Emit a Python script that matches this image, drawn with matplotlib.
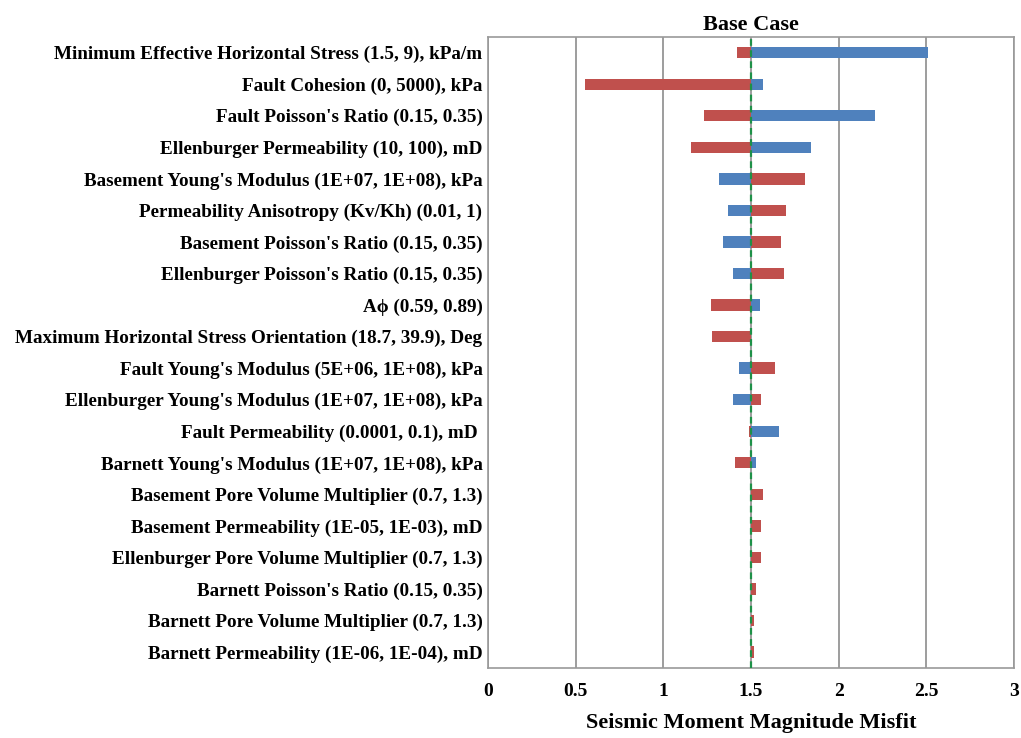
import matplotlib
matplotlib.use("Agg")
from matplotlib import pyplot as plt

params = [
    "Minimum Effective Horizontal Stress (1.5, 9), kPa/m",
    "Fault Cohesion (0, 5000), kPa",
    "Fault Poisson's Ratio (0.15, 0.35)",
    "Ellenburger Permeability (10, 100), mD",
    "Basement Young's Modulus (1E+07, 1E+08), kPa",
    "Permeability Anisotropy (Kv/Kh) (0.01, 1)",
    "Basement Poisson's Ratio (0.15, 0.35)",
    "Ellenburger Poisson's Ratio (0.15, 0.35)",
    "A\u03d5 (0.59, 0.89)",
    "Maximum Horizontal Stress Orientation (18.7, 39.9), Deg",
    "Fault Young's Modulus (5E+06, 1E+08), kPa",
    "Ellenburger Young's Modulus (1E+07, 1E+08), kPa",
    "Fault Permeability (0.0001, 0.1), mD ",
    "Barnett Young's Modulus (1E+07, 1E+08), kPa",
    "Basement Pore Volume Multiplier (0.7, 1.3)",
    "Basement Permeability (1E-05, 1E-03), mD",
    "Ellenburger Pore Volume Multiplier (0.7, 1.3)",
    "Barnett Poisson's Ratio (0.15, 0.35)",
    "Barnett Pore Volume Multiplier (0.7, 1.3)",
    "Barnett Permeability (1E-06, 1E-04), mD",
]
red_vals = [1.42, 0.555, 1.23, 1.16, 1.81, 1.70, 1.67, 1.69, 1.27, 1.28,
            1.64, 1.56, 1.49, 1.41, 1.57, 1.56, 1.56, 1.53, 1.52, 1.52]
blue_vals = [2.51, 1.57, 2.21, 1.84, 1.32, 1.37, 1.34, 1.40, 1.55, 1.50,
             1.43, 1.40, 1.66, 1.53, 1.50, 1.50, 1.50, 1.50, 1.50, 1.50]
base = 1.5

plt.rcParams['font.family'] = ['Liberation Serif', 'DejaVu Serif']
plt.rcParams['font.weight'] = 'bold'

fig = plt.figure(figsize=(10.21, 7.38), dpi=100)
ax = fig.add_axes([0.478, 0.095, 0.515, 0.855])

ypos = list(range(len(params)))
ax.barh(ypos, [r - base for r in red_vals], left=base, height=0.36,
        color='#C0504D', zorder=3)
ax.barh(ypos, [b - base for b in blue_vals], left=base, height=0.36,
        color='#4F81BD', zorder=3)
ax.axvline(base, color='#1E9148', linestyle=(0, (3, 2)), linewidth=1.6, zorder=4)

ax.set_xlim(0, 3)
ax.set_ylim(len(params) - 0.5, -0.5)
ax.set_xticks([0, 0.5, 1, 1.5, 2, 2.5, 3])
ax.set_xticklabels(['0', '0.5', '1', '1.5', '2', '2.5', '3'])
ax.set_yticks(ypos)
ax.set_yticklabels(params)
ax.tick_params(axis='y', length=0, labelsize=13.8, pad=4)
ax.tick_params(axis='x', length=0, labelsize=14, pad=11)
ax.grid(axis='x', color='#8c8c8c', linewidth=1.2, zorder=0)
ax.set_axisbelow(True)
for s in ax.spines.values():
    s.set_color('#9a9a9a')
    s.set_linewidth(1.2)

ax.set_title('Base Case', fontsize=16, fontweight='bold', pad=5)
ax.set_xlabel('Seismic Moment Magnitude Misfit', fontsize=16, fontweight='bold', labelpad=9)

fig.savefig('out.png', dpi=100)
